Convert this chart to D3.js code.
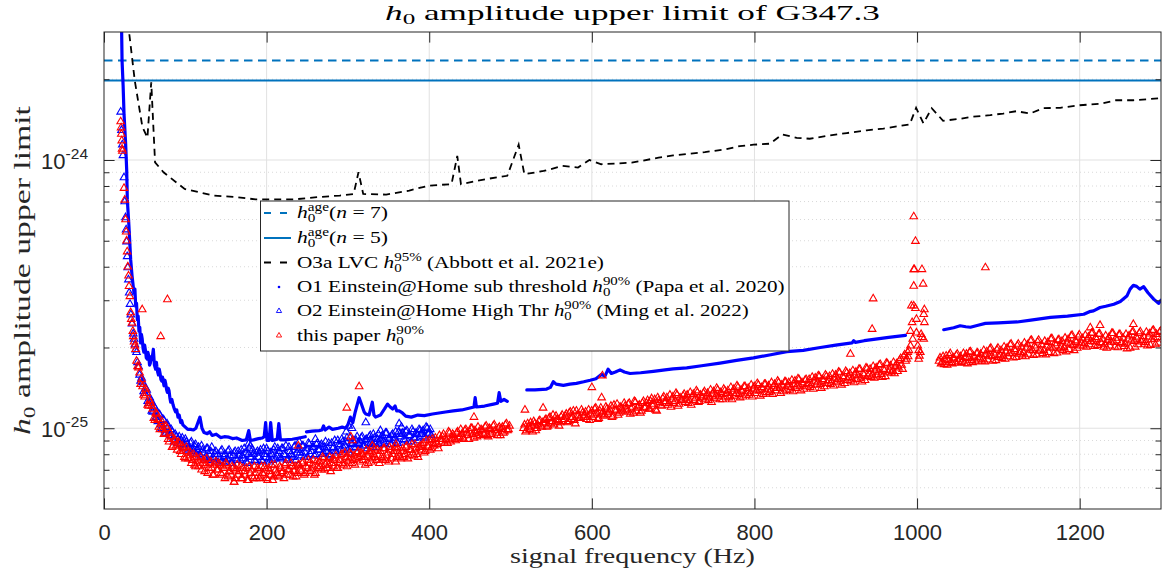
<!DOCTYPE html>
<html>
<head>
<meta charset="utf-8">
<script src="https://cdn.jsdelivr.net/npm/d3@7"></script>
<style>
body { margin: 0; background: #fff; }
</style>
</head>
<body>
<div id="chart"></div>
<script>
// all strain values below are in units of 1e-27
const UNIT = 1e-27;

// spin-down (age) limits
const hAgeN7 = 2350;
const hAgeN5 = 1980;

// O3a LVC h0 95% upper limit  [frequency Hz, h0]
const o3aLimit = [[26,4000],[37.8,1980],[47.2,1330],[53.4,1210],[58.1,1950],[62.8,980],[73.2,900],[99.2,780],
  [134.6,737],[163,727],[186.5,713],[233.8,713],[262,727],[290,737],[307,747],[313,900],[318.8,747],[347,743],
  [375.4,769],[399,802],[427.4,813],[434.5,1035],[439,813],[470,849],[496,873],[510,1140],[517,885],[540.7,910],
  [564,950],[583,937],[597,1000],[611.6,964],[649,977],[682,1020],[700,1040],[739,1070],[764,1096],[782,1127],
  [799,1140],[819,1150],[834,1245],[852,1210],[868,1200],[889,1230],[913.5,1260],[938,1290],[958.6,1310],
  [991,1357],[998.8,1565],[1007.8,1370],[1018,1560],[1032,1400],[1053,1425],[1069,1450],[1090,1470],[1106,1490],
  [1122,1520],[1139,1490],[1155,1560],[1176,1565],[1200,1600],[1225,1620],[1245,1670],[1266,1670],[1300,1700]];

// O1 Einstein@Home sub threshold (null = no data)
const o1Limit = [[20.5,4500],[21.7,3000],[22.2,2350],[23.5,1900],[24.6,1490],[26.6,1150],[27.9,920],[28.7,710],
  [30.7,565],[32.8,425],[34.5,370],[36.9,319],[38,330],[39,285],[40,292],[41,254],[42,262],[43,230],[44,238],
  [45,208],[46,224],[47,215],[48,199],[49,192],[50,204],[51,195],[52,183],[53.3,181],[54,192],[55,186],[56,172],
  [57,175],[58,185],[59,180],[60.7,197],[62,172],[63.5,166],[64.5,176],[65,170],[66,162],[67,158],[68,166],
  [69,160],[70,152],[71,150],[72,155],[73.8,144],[75,151],[76,146],[77,139],[78,136],[79,141],[80,138],[81,130],
  [82,125],[83.5,128],[85,122],[86.5,118],[88,115],[89.5,117],[91,110],[92.5,112],[94.3,105],[95.5,107],[97,103],
  [100,101],[103,99],[106.6,99],[110,98.5],[113,100],[116,106],[118,110],[120.5,100],[123,96.4],[127,95.5],
  [130,97],[133,94],[138,95],[143.4,92.3],[148,93],[153.6,92.6],[158,91.5],[163,92],[170,90],[175,90.5],
  [178,98],[180,90],[184,90.5],[190,91.5],[194.7,92],[197,93],[198.8,105],[200.5,90],[203,90],[205,105],
  [207,90],[210,90.5],[213,91],[215,104],[217,90.5],[222,90.5],[231.6,91],[240,92],[247.5,93],[248,null],
  [249,97],[256,97.5],[264.5,98],[268,98.5],[270,102],[272,98.5],[276.8,101],[281,99],[288,100],[293,101],
  [297,100],[300,103],[303,110],[306,105],[309,115],[313.8,130],[317,122],[320,115],[322,113],[326,112],
  [330,125],[332,112],[334,110],[340,112],[345,118],[348.7,123],[352,120],[355,118],[358,121],[360,116],
  [363,116],[367,114],[371,111],[378,110],[386,112],[394,111.5],[404,113],[412,114],[420,115],[429.5,116],
  [440,117],[450,119],[455,120],[456.5,130],[458,120],[468,121],[479,123],[484,124],[486,135.7],[488,126],
  [492,128],[496,126],[497,null],[520,139],[530,139],[544.4,140],[549,142],[552.6,149],[556,146],[565,144.5],
  [573,146],[581,147],[590,149],[598,151],[605,153],[612,159],[616,156],[620,166],[624,160],[629,162],
  [634.7,165],[640,162],[647,160],[660,161],[675.7,163],[690,165],[700,166.5],[716.7,168],[735,171],
  [757.7,175],[778,179],[798.8,183],[820,188],[839.8,193],[860,195],[881,200],[900,204],[920,208],[922,212],
  [924,209],[935,212],[949,215],[965,218],[985.7,222],[986,null],[1032.8,233],[1045,237],[1053,241],[1060,239],
  [1065.6,238],[1075,242],[1084,246],[1100,247],[1123,249],[1140,253],[1164,259],[1185,262],[1205,266],
  [1212,272],[1217,274],[1225,282],[1232,285],[1242,290],[1250,297],[1258,311],[1262,330],[1266,341],
  [1270,338],[1274,330],[1278.7,337],[1284,320],[1291,303],[1297,292],[1300,300]];

// frequency bins are 2.5 Hz wide; "A" arrays start on the band start, "B" arrays half a bin later
const binStepHz = 2.5;

// O2 Einstein@Home High Thr
const o2Low = [[20.5,1510],[21.5,1290],[22.5,1140],[23.3,1040],[24.6,860],[25.5,700],[26.5,610],[27.2,550],
  [27.8,496],[28.5,437],[29.2,397],[30,358],[31,320],[32,290],[33,265],[34.5,245],[36,225],[37,215],[38,205],[39,196]];
const o2BandStart = 40;
const o2BinsA = [192,170,150,148,135,139,124,127,115,119, 110,113,103,108,98,104,96,99,91,95,
  88,93,90,85,91,87,84,89,82,87, 83,80,86,81,78,84,79,85,77,82, 80,76,83,78,75,82,79,74,81,77,
  82,76,79,84,75,80,78,83,76,81, 78,83,75,80,84,77,81,76,85,79, 82,77,84,79,76,85,80,78,86,81,
  84,79,86,81,78,87,82,85,80,88, 83,87,81,89,84,80,88,85,82,90, 86,91,84,89,83,92,87,85,90,88,
  89,93,86,91,88,94,87,92,85,95, 90,94,88,96,91,87,95,92,89,97, 93,96,90,98,94,89,97,92,95,99,
  95,98,92,100,96,94];
const o2BinsB = [176,158,154,137,141,126,130,116,121,110, 106,112,100,107,96,101,94,97,89,93,
  91,87,92,84,89,83,88,81,86,80, 85,79,83,77,84,76,82,78,80,75, 78,82,75,80,77,83,74,79,82,76,
  79,83,77,81,74,84,78,80,75,82, 81,76,84,78,82,75,80,83,77,84, 78,84,80,86,77,82,79,85,76,83,
  81,86,78,84,88,80,85,79,87,83, 86,80,85,82,88,79,84,90,81,87, 83,89,86,92,81,88,90,84,93,87,
  92,86,90,84,93,89,95,88,91,87, 93,89,96,87,92,94,90,97,88,95, 95,91,97,89,94,99,92,96,90,98,
  97,93,101,95,99];
const o2Outliers = [[178,87.5],[180,86],[240,89],[260,91],[298,97],[301,102],[305,100],[322,105],[340,98],[363,104],[366,101]];

// this paper
const paperLow = [[20.5,1390],[21,1320],[21.3,1250],[21.8,1180],[22.2,1100],[22.6,1080],[24.6,785],[25.5,710],
  [26.5,600],[27.3,540],[27.8,500],[28.5,455],[29.3,400],[30.2,370],[30.8,338],[31.8,310],[32.8,270],[33.5,255],
  [34.5,247],[35.5,230],[36,220],[37,210],[38,203],[39,197]];
const paperBandStart = [40, 516, 1027];
const paperBinsA1 = [178,168,146,143,131,135,121,124,118,107, 113,101,104,99,96,100,89,93,86,90,
  83,88,80,84,77,82,79,74,80,72, 77,75,70,76,73,68,74,71,67,75, 70,73,67,71,74,66,69,72,63,70,
  67,72,65,69,71,64,68,66,72,65, 70,66,68,72,65,71,67,64,73,68, 66,71,69,73,67,70,74,66,72,68,
  73,69,75,68,71,74,70,76,68,72, 75,70,77,73,71,78,74,72,79,71, 76,80,73,78,75,81,74,79,77,82,
  75,80,78,83,74,81,77,84,76,79, 82,77,84,79,75,83,80,85,78,81, 77,84,80,86,79,83,81,87,80,85,
  83,88,82,86,90,84,88,92,87,94, 89,95,91,88,96,92,94,90,97,93, 95,91,99,94,97,100,92,96,101,94,
  98,95,102,93,99,97,103,96,100,94, 101,97,104,99];
const paperBinsB1 = [170,161,152,133,140,122,127,121,109,114, 108,99,106,95,102,91,96,85,91,86,
  89,82,86,78,85,77,81,76,73,78, 72,78,74,69,77,71,75,67,73,70, 74,68,72,65,73,69,67,71,65,73,
  69,65,71,67,64,72,70,65,68,71, 65,72,67,70,64,69,73,66,70,67, 72,68,65,74,70,67,72,69,66,73,
  70,74,67,72,76,69,73,67,75,71, 72,78,70,75,73,69,77,76,71,74, 79,74,81,72,77,80,76,73,81,78,
  81,76,73,79,82,75,80,78,83,74, 78,84,76,81,85,77,82,75,84,79, 82,78,85,77,83,87,79,84,78,86,
  86,81,90,85,83,91,86,89,84,91, 93,88,90,97,89,95,91,96,92,99, 92,98,96,91,100,95,98,93,97,99,
  96,101,94,100,95,102,98,94,101,99, 96,103,98,102];
const paperBinsA2 = [100,97,104,99,102,106,98,103,107,101, 104,108,102,110,106,103,111,107,105,112,
  108,113,106,115,110,107,116,111,109,114, 112,108,117,113,110,118,114,109,119,115,
  112,118,115,121,111,117,123,114,119,116, 121,115,124,118,114,125,119,122,116,126,
  120,127,118,129,123,117,130,125,121,131, 126,122,133,128,124,135,121,130,127,134,
  129,124,136,131,127,138,125,133,130,137, 132,127,139,134,129,141,131,136,128,138,
  135,130,142,137,132,144,134,139,131,143, 137,133,145,140,135,147,138,142,134,146,
  140,136,148,143,138,150,141,145,137,149, 144,139,151,146,141,153,143,148,140,152,
  147,142,155,150,145,157,146,152,143,156, 151,146,159,154,148,162,150,156,147,161,
  155,150,164,158,152,166,154,160,151,167, 160,155,170,164,157,172,159,166,156,174,
  165,161,176,170,163,179,172,185,178,192];
const paperBinsB2 = [103,98,101,105,97,104,100,106,102,105, 107,101,109,104,112,105,108,102,110,106,
  111,105,114,108,116,104,112,109,117,110, 115,110,107,116,112,119,108,116,113,111,
  120,113,117,110,122,116,112,120,118,124, 117,123,113,120,126,116,121,114,124,119,
  124,118,126,121,128,116,127,122,129,124, 130,124,120,131,126,133,123,128,132,125,
  133,127,122,134,129,136,126,131,135,128, 135,130,125,137,132,139,128,134,140,131,
  138,132,128,140,135,142,130,137,143,133, 141,135,131,143,138,145,132,140,146,136,
  144,138,134,146,141,148,135,143,149,139, 148,142,137,150,144,152,138,146,151,143,
  152,145,140,154,148,156,141,150,158,147, 156,149,144,158,152,161,145,154,163,151,
  160,153,148,162,157,166,149,158,168,156, 166,158,154,168,162,173,155,164,175,161,
  171,163,160,174,168,182,166,188,181];
const paperBinsA3 = [178,174,185,180,172,187,176,183,175,189, 181,176,190,184,174,192,179,186,177,191,
  183,178,195,188,180,197,185,191,179,199, 188,182,201,193,185,205,190,197,184,206,
  192,186,208,199,189,212,195,203,188,213, 196,190,211,203,192,215,199,207,191,214,
  201,195,217,208,197,221,204,212,199,223, 208,203,222,214,205,226,210,218,204,225,
  207,201,221,213,203,226,209,217,200,224, 209,202,224,215,199,228,211,219,205,229,
  213,206,228,219,204,231,215,224,208,230];
const paperBinsB3 = [183,176,173,186,179,190,174,181,187,177, 185,178,175,189,182,193,176,184,190,180,
  189,181,177,193,186,199,178,187,196,184, 195,186,181,199,190,206,183,194,203,189,
  201,191,185,205,196,213,187,199,210,194, 205,195,188,209,200,216,190,203,213,198,
  211,200,193,214,206,222,195,209,219,203, 216,207,201,219,211,227,202,214,224,209,
  215,205,199,218,210,226,201,212,223,207, 217,206,198,221,212,229,201,215,226,210,
  220,209,203,225,214,232,205,218,228];
const paperOutliers = [[47,277],[69.7,220],[78,302],[160,63],[239,86],[298.6,119],[303.5,93],[305.5,90],
  [313.8,143],[330,86],[359,87],[455,110],[517.7,117],[540,119],[600,142],[612,130],[613,157],[918,189],
  [944.7,234],[946,304],[1084,397],[1213,237],[1225,242],[1266,244],
  [989,185],[990,195],[991.8,230],[991.8,203],[993,286],[993.9,248],[994.7,215],[995.9,615],[995.9,391],
  [995.9,339],[995.9,286],[996.7,391],[998,498],[998,280],[999.2,255],[999.2,227],[1000.8,203],[1002,195],
  [1002,181],[1002.9,186],[1004,192],[1005,224],[1006,391],[1006,218],[1007.4,345],[1008.2,266],
  [1008.2,215],[1009,277],[1009,248]];

const xTicks = [0, 200, 400, 600, 800, 1000, 1200];
const yMajor = [1e-25, 1e-24];
const yMinor = [6e-26, 7e-26, 8e-26, 9e-26, 2e-25, 3e-25, 4e-25, 5e-25, 6e-25, 7e-25, 8e-25, 9e-25, 2e-24];

const legendLabels = [
  { pre: "", sup: "age", post: "(n = 7)" },
  { pre: "", sup: "age", post: "(n = 5)" },
  { pre: "O3a LVC ", sup: "95%", post: " (Abbott et al. 2021e)" },
  { pre: "O1 Einstein@Home sub threshold ", sup: "90%", post: " (Papa et al. 2020)" },
  { pre: "O2 Einstein@Home High Thr ", sup: "90%", post: " (Ming et al. 2022)" },
  { pre: "this paper ", sup: "90%", post: "" }
];

function main() {
  const W = 1163, H = 584;
  const left = 104, right = 1161, top = 32, bottom = 509;
  const SERIF = "'Liberation Serif', 'Times New Roman', serif";
  const SANS = "'Liberation Sans', Arial, Helvetica, sans-serif";
  const axisColor = "#262626";
  const ageBlue = "#0072BD";

  const svg = d3.select("#chart").append("svg")
    .attr("width", W)
    .attr("height", H);

  const x = d3.scaleLinear().domain([0, 1300]).range([left, right]);
  const y = d3.scaleLog().domain([5e-26, 3e-24]).range([bottom, top]);
  const yv = v => y(v * UNIT);

  // grid
  const grid = svg.append("g");
  grid.selectAll(".minor").data(yMinor).join("line")
    .attr("x1", left).attr("x2", right)
    .attr("y1", d => y(d)).attr("y2", d => y(d))
    .attr("stroke", "#cfcfcf").attr("stroke-width", 0.8).attr("stroke-dasharray", "1,3");
  grid.selectAll(".vmajor").data(xTicks.filter(d => d > 0)).join("line")
    .attr("x1", d => x(d)).attr("x2", d => x(d))
    .attr("y1", top).attr("y2", bottom)
    .attr("stroke", "#e1e1e1").attr("stroke-width", 1);
  grid.selectAll(".hmajor").data(yMajor).join("line")
    .attr("x1", left).attr("x2", right)
    .attr("y1", d => y(d)).attr("y2", d => y(d))
    .attr("stroke", "#e1e1e1").attr("stroke-width", 1);

  // data
  svg.append("clipPath").attr("id", "plotclip")
    .append("rect").attr("x", left).attr("y", top).attr("width", right - left).attr("height", bottom - top);
  const plot = svg.append("g").attr("clip-path", "url(#plotclip)");

  plot.append("line")
    .attr("x1", x(0)).attr("x2", x(1300)).attr("y1", yv(hAgeN7)).attr("y2", yv(hAgeN7))
    .attr("stroke", ageBlue).attr("stroke-width", 2).attr("stroke-dasharray", "8.5,5.5");
  plot.append("line")
    .attr("x1", x(0)).attr("x2", x(1300)).attr("y1", yv(hAgeN5)).attr("y2", yv(hAgeN5))
    .attr("stroke", ageBlue).attr("stroke-width", 2);

  const line = d3.line()
    .defined(d => d[1] !== null)
    .x(d => x(d[0]))
    .y(d => yv(d[1]));

  plot.append("path").datum(o3aLimit)
    .attr("d", line)
    .attr("fill", "none").attr("stroke", "#000").attr("stroke-width", 1.8)
    .attr("stroke-dasharray", "7,5");

  plot.append("path").datum(o1Limit)
    .attr("d", line)
    .attr("fill", "none").attr("stroke", "#0000FF").attr("stroke-width", 3.2)
    .attr("stroke-linejoin", "round").attr("stroke-linecap", "round");

  const binned = (start, vals) => vals.map((v, i) => [start + i * binStepHz, v]);
  const half = binStepHz / 2;
  const o2Points = o2Low.concat(binned(o2BandStart, o2BinsA), binned(o2BandStart + half, o2BinsB), o2Outliers);
  const paperPoints = paperLow.concat(
    binned(paperBandStart[0], paperBinsA1), binned(paperBandStart[0] + half, paperBinsB1),
    binned(paperBandStart[1], paperBinsA2), binned(paperBandStart[1] + half, paperBinsB2),
    binned(paperBandStart[2], paperBinsA3), binned(paperBandStart[2] + half, paperBinsB3),
    paperOutliers);

  const tri = d3.symbol(d3.symbolTriangle, 25);

  plot.append("g").selectAll("path").data(o2Points).join("path")
    .attr("d", tri)
    .attr("transform", d => `translate(${x(d[0])},${yv(d[1])})`)
    .attr("fill", "none").attr("stroke", "#0000FF").attr("stroke-width", 1.1);

  plot.append("g").selectAll("path").data(paperPoints).join("path")
    .attr("d", tri)
    .attr("transform", d => `translate(${x(d[0])},${yv(d[1])})`)
    .attr("fill", "none").attr("stroke", "#FF0000").attr("stroke-width", 1.1);

  // axes (ticks inside, on all four sides)
  const styleAxis = g => {
    g.select(".domain").remove();
    g.selectAll(".tick line").attr("stroke", axisColor).attr("stroke-width", 1);
  };
  const bAxis = svg.append("g").attr("transform", `translate(0,${bottom})`)
    .call(d3.axisBottom(x).tickValues(xTicks).tickSizeInner(-10.6).tickSizeOuter(0).tickPadding(15).tickFormat(d3.format("d")))
    .call(styleAxis);
  bAxis.selectAll("text").attr("font-family", SANS).attr("font-size", 22).attr("fill", axisColor);
  svg.append("g").attr("transform", `translate(0,${top})`)
    .call(d3.axisTop(x).tickValues(xTicks).tickSizeInner(-10.6).tickSizeOuter(0).tickFormat(""))
    .call(styleAxis);

  svg.append("g").attr("transform", `translate(${left},0)`)
    .call(d3.axisLeft(y).tickValues(yMajor).tickSizeInner(-10.6).tickSizeOuter(0).tickFormat(""))
    .call(styleAxis);
  svg.append("g").attr("transform", `translate(${left},0)`)
    .call(d3.axisLeft(y).tickValues(yMinor).tickSizeInner(-5.5).tickSizeOuter(0).tickFormat(""))
    .call(styleAxis);
  svg.append("g").attr("transform", `translate(${right},0)`)
    .call(d3.axisRight(y).tickValues(yMajor).tickSizeInner(-10.6).tickSizeOuter(0).tickFormat(""))
    .call(styleAxis);
  svg.append("g").attr("transform", `translate(${right},0)`)
    .call(d3.axisRight(y).tickValues(yMinor).tickSizeInner(-5.5).tickSizeOuter(0).tickFormat(""))
    .call(styleAxis);

  // y tick labels 10^-25, 10^-24
  const yLab = svg.append("g").selectAll("text").data(yMajor).join("text")
    .attr("x", 88).attr("y", d => y(d) + 9)
    .attr("text-anchor", "end")
    .attr("font-family", SANS).attr("fill", axisColor);
  yLab.append("tspan").attr("font-size", 22).text("10");
  yLab.append("tspan").attr("font-size", 15.5).attr("dy", -10).text(d => String(Math.round(Math.log10(d))));

  svg.append("rect")
    .attr("x", left).attr("y", top).attr("width", right - left).attr("height", bottom - top)
    .attr("fill", "none").attr("stroke", axisColor).attr("stroke-width", 1);

  const fitWidth = (sel, cx, target) => {
    const w = sel.node().getBBox().width;
    sel.attr("transform", `translate(${cx},0) scale(${target / w},1) translate(${-cx},0)`);
  };

  // legend
  const lg = svg.append("g");
  lg.append("rect")
    .attr("x", 260.5).attr("y", 201).attr("width", 528.5).attr("height", 150)
    .attr("fill", "#fff").attr("stroke", axisColor).attr("stroke-width", 1);
  const rowY = [213, 238, 262.5, 287, 311, 335.5];
  const legendTargets = [91, 91, 307, 488, 452, 127];
  lg.append("line").attr("x1", 264).attr("x2", 291).attr("y1", rowY[0]).attr("y2", rowY[0])
    .attr("stroke", ageBlue).attr("stroke-width", 2).attr("stroke-dasharray", "7,9");
  lg.append("line").attr("x1", 264).attr("x2", 291).attr("y1", rowY[1]).attr("y2", rowY[1])
    .attr("stroke", ageBlue).attr("stroke-width", 2);
  lg.append("line").attr("x1", 264).attr("x2", 291).attr("y1", rowY[2]).attr("y2", rowY[2])
    .attr("stroke", "#000").attr("stroke-width", 1.8).attr("stroke-dasharray", "7,9");
  lg.append("circle").attr("cx", 279).attr("cy", rowY[3]).attr("r", 1.3).attr("fill", "#0000FF");
  lg.append("path").attr("d", d3.symbol(d3.symbolTriangle, 12))
    .attr("transform", `translate(279,${rowY[4]})`)
    .attr("fill", "none").attr("stroke", "#0000FF").attr("stroke-width", 0.9);
  lg.append("path").attr("d", d3.symbol(d3.symbolTriangle, 12))
    .attr("transform", `translate(279,${rowY[5]})`)
    .attr("fill", "none").attr("stroke", "#FF0000").attr("stroke-width", 0.9);

  legendLabels.forEach((lab, i) => {
    const t = lg.append("text")
      .attr("x", 297).attr("y", rowY[i] + 5.5)
      .attr("font-family", SERIF).attr("font-size", 17).attr("fill", "#000");
    if (lab.pre) t.append("tspan").text(lab.pre);
    t.append("tspan").attr("font-style", "italic").text("h");
    t.append("tspan").attr("font-size", 12).attr("dy", 4).text("0");
    t.append("tspan").attr("font-size", 12).attr("dx", -6).attr("dy", -11).text(lab.sup);
    if (lab.post.startsWith("(n")) {
      t.append("tspan").attr("dy", 7).text("(");
      t.append("tspan").attr("font-style", "italic").text("n");
      t.append("tspan").text(lab.post.slice(2));
    } else if (lab.post) {
      t.append("tspan").attr("dy", 7).text(lab.post);
    }
    fitWidth(t, 297, legendTargets[i]);
  });

  // title and axis labels
  const title = svg.append("text")
    .attr("x", (left + right) / 2).attr("y", 20)
    .attr("text-anchor", "middle")
    .attr("font-family", SERIF).attr("font-size", 21).attr("fill", "#000");
  title.append("tspan").attr("font-style", "italic").text("h");
  title.append("tspan").attr("font-size", 15).attr("dy", 4).text("0");
  title.append("tspan").attr("dy", -4).text(" amplitude upper limit of G347.3");
  fitWidth(title, (left + right) / 2, 495);

  const xLabel = svg.append("text")
    .attr("x", (left + right) / 2).attr("y", 563)
    .attr("text-anchor", "middle")
    .attr("font-family", SERIF).attr("font-size", 22).attr("fill", "#262626")
    .text("signal frequency (Hz)");
  fitWidth(xLabel, (left + right) / 2, 245);

  const yLabelG = svg.append("g").attr("transform", `translate(30,${(top + bottom) / 2}) rotate(-90)`);
  const yLabel = yLabelG.append("text")
    .attr("x", 0).attr("y", 0)
    .attr("text-anchor", "middle")
    .attr("font-family", SERIF).attr("font-size", 23).attr("fill", "#262626");
  yLabel.append("tspan").attr("font-style", "italic").text("h");
  yLabel.append("tspan").attr("font-size", 16).attr("dy", 5).text("0");
  yLabel.append("tspan").attr("dy", -5).text(" amplitude upper limit");
  fitWidth(yLabel, 0, 330);
}
main();
</script>
</body>
</html>
